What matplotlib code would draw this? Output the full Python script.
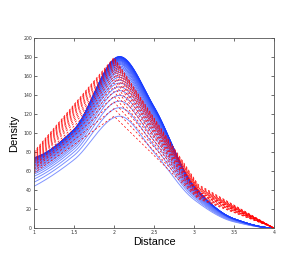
""" Density vs distance: smooth fits (blue) over piecewise measurements (red) """
import matplotlib
matplotlib.use('Agg')
import matplotlib.pyplot as plt
import numpy as np

# blue curves: knot positions and values at each knot (one entry per curve)
blue_x = [1.0, 1.5, 2.07, 2.5, 3.0, 3.5, 4.0]
blue_at_1 = [44, 48.3, 51.6, 54.5, 56.9, 58.8, 60.7, 62.1, 63.5, 64.7, 65.9,
             66.9, 67.8, 68.5, 69.2, 70.0, 70.4, 70.9, 71.4, 71.8, 72.1,
             72.4, 72.7, 72.9, 73.1, 73.3, 73.5, 73.6, 73.8, 73.9, 74.0]
blue_at_15 = [72, 76.6, 80.1, 83.2, 85.7, 87.7, 89.8, 91.3, 92.8, 94.1, 95.4,
              96.4, 97.4, 98.2, 98.9, 99.7, 100.2, 100.7, 101.2, 101.6, 102.0,
              102.3, 102.6, 102.8, 103.0, 103.2, 103.4, 103.6, 103.7, 103.9, 104.0]
blue_peak = [118, 127, 134, 140, 145, 149, 153, 156, 159, 161.5, 164,
             166, 168, 169.5, 171, 172.5, 173.5, 174.5, 175.5, 176.3, 177,
             177.6, 178.2, 178.7, 179.1, 179.5, 179.9, 180.2, 180.5, 180.8, 181.0]
blue_at_25 = [80, 86.9, 92.2, 96.8, 100.6, 103.6, 106.7, 108.9, 111.2, 113.1, 115.0,
              116.6, 118.1, 119.2, 120.4, 121.5, 122.3, 123.1, 123.8, 124.4, 125.0,
              125.4, 125.9, 126.2, 126.6, 126.8, 127.2, 127.3, 127.6, 127.8, 128.0]
blue_at_3 = [30, 32.0, 33.6, 34.9, 36.0, 36.9, 37.8, 38.4, 39.1, 39.7, 40.2,
             40.7, 41.1, 41.4, 41.8, 42.1, 42.3, 42.6, 42.8, 43.0, 43.1,
             43.2, 43.4, 43.5, 43.6, 43.7, 43.8, 43.8, 43.9, 44.0, 44.0]
blue_at_35 = [6.5, 7.0, 7.3, 7.6, 7.9, 8.1, 8.3, 8.4, 8.6, 8.7, 8.8,
              8.9, 9.0, 9.1, 9.2, 9.3, 9.3, 9.4, 9.4, 9.5, 9.5,
              9.5, 9.6, 9.6, 9.6, 9.6, 9.7, 9.7, 9.7, 9.7, 9.7]
blue_at_4 = 0.0

# red dashed lines: straight segments between measured points
red_x = [1.0, 2.0, 3.05, 4.0]
red_at_1 = [58, 60, 62, 63, 65, 66, 68, 69, 70, 71,
            72, 73, 74, 75, 76, 77, 78, 78.5, 79.5, 80.5]
red_at_2 = [118, 126, 133, 139, 144, 149, 153, 157, 160, 163,
            166, 168, 170, 172, 174, 175.5, 177, 178, 179, 180]
red_at_3 = [31, 32, 33, 34, 35, 36, 36.5, 37, 38, 38.5,
            39, 40, 40.5, 41, 42, 42.5, 43, 44, 45, 46]
red_at_4 = 0.0

xticks = [1, 1.5, 2, 2.5, 3, 3.5, 4]
xticklabels = ['1', '1.5', '2', '2.5', '3', '3.5', '4']
yticks = list(range(0, 201, 20))


def pchip(xk, yk, xs):
    """ shape preserving cubic through the knots, flat at the right end """
    xk = np.asarray(xk, float)
    yk = np.asarray(yk, float)
    h = np.diff(xk)
    d = np.diff(yk) / h
    m = np.zeros_like(yk)
    for k in range(1, len(xk) - 1):
        if d[k - 1] * d[k] > 0:
            w1 = 2 * h[k] + h[k - 1]
            w2 = h[k] + 2 * h[k - 1]
            m[k] = (w1 + w2) / (w1 / d[k - 1] + w2 / d[k])
    m0 = ((2 * h[0] + h[1]) * d[0] - h[0] * d[1]) / (h[0] + h[1])
    if np.sign(m0) != np.sign(d[0]):
        m0 = 0.0
    m[0] = m0
    m[-1] = 0.0
    idx = np.clip(np.searchsorted(xk, xs) - 1, 0, len(xk) - 2)
    t = (xs - xk[idx]) / h[idx]
    h00 = 2 * t**3 - 3 * t**2 + 1
    h10 = t**3 - 2 * t**2 + t
    h01 = -2 * t**3 + 3 * t**2
    h11 = t**3 - t**2
    return (h00 * yk[idx] + h10 * h[idx] * m[idx]
            + h01 * yk[idx + 1] + h11 * h[idx] * m[idx + 1])


fig = plt.figure(figsize=(2.99, 2.75), dpi=100, facecolor='white')
ax = fig.add_axes([0.1137, 0.1709, 0.8027, 0.6891])

xs = np.linspace(1.0, 4.0, 400)
nb = len(blue_peak)
light = np.array([0.50, 0.58, 1.0])
dark = np.array([0.10, 0.24, 1.0])
for i in range(nb):
    yk = [blue_at_1[i], blue_at_15[i], blue_peak[i], blue_at_25[i],
          blue_at_3[i], blue_at_35[i], blue_at_4]
    frac = i / (nb - 1)
    col = light + (dark - light) * frac
    ax.plot(xs, pchip(blue_x, yk, xs), color=col, linewidth=0.7)

for i in range(len(red_at_2)):
    ax.plot(red_x, [red_at_1[i], red_at_2[i], red_at_3[i], red_at_4],
            color='#ff0000', linewidth=0.5, linestyle='--', dashes=(3, 3))

ax.set_xlim(1, 4)
ax.set_ylim(0, 200)
ax.set_xticks(xticks)
ax.set_xticklabels(xticklabels)
ax.set_yticks(yticks)
ax.tick_params(direction='in', length=2.2, width=0.5, labelsize=3.3,
               colors='#333333', top=True, right=True, pad=1.5)
for sp in ax.spines.values():
    sp.set_color('#555555')
    sp.set_linewidth(0.6)

ax.set_xlabel('Distance', fontsize=7.8, family='Liberation Sans', labelpad=1.5)
ax.set_ylabel('Density', fontsize=8, family='Liberation Sans', labelpad=3)

fig.savefig('out.png', dpi=100, facecolor='white')
plt.close(fig)
